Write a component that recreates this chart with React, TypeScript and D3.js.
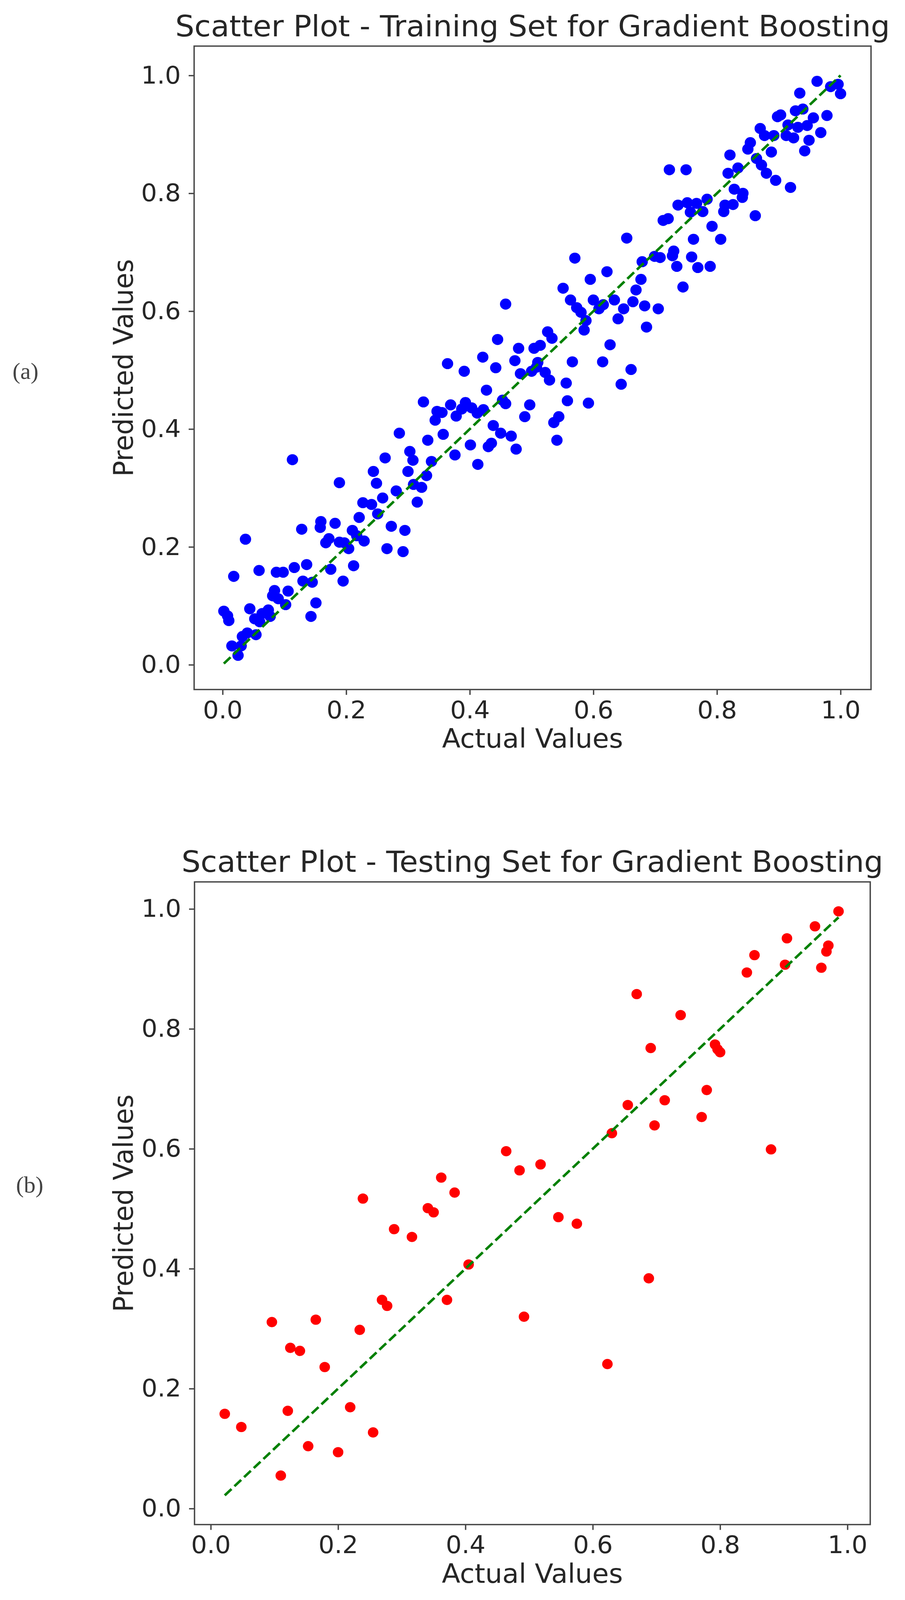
import React, { useEffect, useRef } from "react";
import * as d3 from "d3";

// Training set
const trainActual = [
  0.037, 0.128, 0.159, 0.158, 0.182, 0.221, 0.227, 0.241, 0.259, 0.281,
  0.251, 0.273, 0.295, 0.266, 0.292, 0.21, 0.217, 0.229, 0.204, 0.172,
  0.167, 0.189, 0.197, 0.175, 0.212, 0.195, 0.136, 0.116, 0.098, 0.087,
  0.059, 0.018, 0.13, 0.145, 0.151, 0.143, 0.106, 0.084, 0.081, 0.09,
  0.102, 0.002, 0.008, 0.01, 0.044, 0.052, 0.064, 0.074, 0.077, 0.06,
  0.054, 0.04, 0.032, 0.015, 0.03, 0.025, 0.189, 0.113,
  0.445, 0.479, 0.526, 0.533, 0.504, 0.514, 0.421, 0.473, 0.364, 0.391,
  0.442, 0.51, 0.566, 0.482, 0.5, 0.508, 0.522, 0.529, 0.556, 0.558,
  0.427, 0.325, 0.369, 0.393, 0.347, 0.355, 0.344, 0.378, 0.387, 0.403,
  0.412, 0.422, 0.453, 0.458, 0.497, 0.489, 0.544, 0.536, 0.541, 0.438,
  0.45, 0.467, 0.475, 0.435, 0.43, 0.401, 0.413, 0.376, 0.357, 0.332,
  0.286, 0.303, 0.308, 0.338, 0.263, 0.244, 0.249, 0.3, 0.33, 0.309,
  0.322, 0.315,
  0.723, 0.75, 0.818, 0.834, 0.828, 0.842, 0.841, 0.826, 0.813, 0.811,
  0.784, 0.767, 0.752, 0.737, 0.757, 0.777, 0.713, 0.721, 0.792, 0.762,
  0.806, 0.654, 0.57, 0.679, 0.699, 0.708, 0.73, 0.728, 0.759, 0.735,
  0.769, 0.789, 0.745, 0.622, 0.595, 0.677, 0.551, 0.669, 0.563, 0.6,
  0.616, 0.609, 0.634, 0.664, 0.649, 0.683, 0.705, 0.64, 0.686, 0.573,
  0.58, 0.588, 0.585, 0.627, 0.615, 0.661, 0.862, 0.592, 0.645, 0.458,
  0.962, 0.984, 0.996, 1.0, 0.934, 0.927, 0.939, 0.978, 0.898, 0.903,
  0.956, 0.915, 0.931, 0.946, 0.87, 0.877, 0.892, 0.912, 0.924, 0.968,
  0.949, 0.942, 0.854, 0.85, 0.888, 0.821, 0.864, 0.872, 0.88, 0.895,
  0.919,
];

const trainPredicted = [
  0.213, 0.23, 0.243, 0.233, 0.24, 0.25, 0.275, 0.272, 0.283, 0.295,
  0.256, 0.235, 0.228, 0.197, 0.192, 0.228, 0.219, 0.21, 0.197, 0.214,
  0.207, 0.208, 0.207, 0.162, 0.168, 0.142, 0.17, 0.165, 0.157, 0.157,
  0.16, 0.15, 0.142, 0.14, 0.105, 0.082, 0.125, 0.126, 0.117, 0.112,
  0.102, 0.091, 0.083, 0.075, 0.095, 0.078, 0.087, 0.093, 0.082, 0.073,
  0.051, 0.054, 0.048, 0.032, 0.032, 0.016, 0.309, 0.348,
  0.552, 0.537, 0.565, 0.554, 0.537, 0.542, 0.522, 0.516, 0.511, 0.498,
  0.504, 0.513, 0.514, 0.494, 0.498, 0.505, 0.496, 0.483, 0.478, 0.448,
  0.466, 0.446, 0.441, 0.445, 0.43, 0.428, 0.415, 0.422, 0.434, 0.436,
  0.427, 0.433, 0.449, 0.443, 0.441, 0.421, 0.421, 0.411, 0.381, 0.406,
  0.393, 0.388, 0.366, 0.376, 0.37, 0.373, 0.34, 0.356, 0.391, 0.381,
  0.393, 0.362, 0.347, 0.345, 0.351, 0.328, 0.308, 0.328, 0.321, 0.306,
  0.301, 0.276,
  0.84, 0.84, 0.834, 0.843, 0.807, 0.8, 0.793, 0.781, 0.78, 0.769,
  0.79, 0.783, 0.784, 0.78, 0.768, 0.769, 0.754, 0.757, 0.744, 0.722,
  0.722, 0.724, 0.69, 0.684, 0.693, 0.691, 0.702, 0.694, 0.692, 0.676,
  0.674, 0.676, 0.641, 0.667, 0.654, 0.654, 0.639, 0.636, 0.619, 0.619,
  0.611, 0.604, 0.619, 0.616, 0.604, 0.609, 0.604, 0.587, 0.573, 0.606,
  0.598, 0.584, 0.568, 0.543, 0.514, 0.501, 0.762, 0.444, 0.476, 0.612,
  0.99, 0.981, 0.985, 0.969, 0.97, 0.94, 0.943, 0.932, 0.93, 0.933,
  0.928, 0.916, 0.912, 0.915, 0.91, 0.898, 0.898, 0.898, 0.894, 0.903,
  0.89, 0.872, 0.886, 0.875, 0.87, 0.865, 0.859, 0.848, 0.834, 0.822,
  0.81,
];

// Testing set
const testActual = [
  0.022, 0.048, 0.096, 0.11, 0.121, 0.125, 0.14, 0.153, 0.165, 0.179,
  0.2, 0.219, 0.234, 0.239, 0.255, 0.269, 0.277, 0.288, 0.316, 0.341,
  0.35, 0.362, 0.371, 0.383, 0.405, 0.464, 0.485, 0.492, 0.518, 0.546,
  0.575, 0.623, 0.63, 0.655, 0.669, 0.688, 0.691, 0.697, 0.713, 0.738,
  0.771, 0.779, 0.792, 0.796, 0.8, 0.842, 0.854, 0.88, 0.902, 0.905,
  0.949, 0.959, 0.967, 0.97, 0.986,
];

const testPredicted = [
  0.158, 0.136, 0.311, 0.055, 0.163, 0.268, 0.263, 0.104, 0.315, 0.236,
  0.094, 0.169, 0.298, 0.517, 0.127, 0.348, 0.338, 0.466, 0.453, 0.501,
  0.494, 0.552, 0.348, 0.527, 0.407, 0.596, 0.564, 0.32, 0.574, 0.486,
  0.475, 0.241, 0.626, 0.673, 0.858, 0.384, 0.768, 0.639, 0.681, 0.823,
  0.653, 0.698, 0.774, 0.766, 0.761, 0.894, 0.923, 0.599, 0.907, 0.951,
  0.971, 0.902, 0.929, 0.939, 0.996,
];

const tickValues = [0, 0.2, 0.4, 0.6, 0.8, 1.0];

const titles = [
  "Scatter Plot - Training Set for Gradient Boosting",
  "Scatter Plot - Testing Set for Gradient Boosting",
];

interface Panel {
  title: string;
  tag: string;
  actual: number[];
  predicted: number[];
  color: string;
  radius: number;
  left: number;
  right: number;
  top: number;
  bottom: number;
  xDomain: [number, number];
  yDomain: [number, number];
  tagX: number;
  tagY: number;
}

const panels: Panel[] = [
  {
    title: titles[0],
    tag: "(a)",
    actual: trainActual,
    predicted: trainPredicted,
    color: "#0000ff",
    radius: 14.5,
    left: 497,
    right: 2230,
    top: 121,
    bottom: 1810,
    xDomain: [-0.0461, 1.0493],
    yDomain: [-0.042, 1.0498],
    tagX: 32,
    tagY: 995,
  },
  {
    title: titles[1],
    tag: "(b)",
    actual: testActual,
    predicted: testPredicted,
    color: "#ff0000",
    radius: 13.5,
    left: 498,
    right: 2228,
    top: 2315,
    bottom: 4002,
    xDomain: [-0.0255, 1.0358],
    yDomain: [-0.0267, 1.0451],
    tagX: 41,
    tagY: 3131,
  },
];

const W = 2317;
const H = 4200;
const FONT = "'DejaVu Sans', sans-serif";
const INK = "#262626";
const SPINE = "#454545";

const App: React.FC = () => {
  const svgRef = useRef<SVGSVGElement | null>(null);

  useEffect(() => {
    const svg = d3.select(svgRef.current);
    svg.selectAll("*").remove();

    panels.forEach((p) => {
      const x = d3.scaleLinear().domain(p.xDomain).range([p.left, p.right]);
      const y = d3.scaleLinear().domain(p.yDomain).range([p.bottom, p.top]);
      const g = svg.append("g");

      // points
      g.append("g")
        .selectAll("circle")
        .data(p.actual.map((a, i) => [a, p.predicted[i]]))
        .enter()
        .append("circle")
        .attr("cx", (d) => x(d[0]))
        .attr("cy", (d) => y(d[1]))
        .attr("r", p.radius)
        .attr("fill", p.color);

      // identity line over the range of actual values
      const ext = d3.extent(p.actual) as [number, number];
      const line = d3
        .line<number>()
        .x((d) => x(d))
        .y((d) => y(d));
      g.append("path")
        .attr("d", line(ext))
        .attr("fill", "none")
        .attr("stroke", "#008000")
        .attr("stroke-width", 6.5)
        .attr("stroke-dasharray", "24,10.4");

      // x axis
      const xAxis = g
        .append("g")
        .attr("transform", `translate(0,${p.bottom})`)
        .call(
          d3
            .axisBottom(x)
            .tickValues(tickValues)
            .tickFormat(d3.format(".1f"))
            .tickSize(14)
            .tickPadding(16)
        );
      xAxis.select(".domain").remove();
      xAxis
        .selectAll("text")
        .style("font-family", FONT)
        .style("font-size", "64px")
        .style("fill", INK);
      xAxis.selectAll("line").attr("stroke", SPINE).attr("stroke-width", 3.5);

      // y axis
      const yAxis = g
        .append("g")
        .attr("transform", `translate(${p.left},0)`)
        .call(
          d3
            .axisLeft(y)
            .tickValues(tickValues)
            .tickFormat(d3.format(".1f"))
            .tickSize(14)
            .tickPadding(20)
        );
      yAxis.select(".domain").remove();
      yAxis
        .selectAll("text")
        .style("font-family", FONT)
        .style("font-size", "64px")
        .style("fill", INK);
      yAxis.selectAll("line").attr("stroke", SPINE).attr("stroke-width", 3.5);

      // frame
      g.append("rect")
        .attr("x", p.left)
        .attr("y", p.top)
        .attr("width", p.right - p.left)
        .attr("height", p.bottom - p.top)
        .attr("fill", "none")
        .attr("stroke", SPINE)
        .attr("stroke-width", 3.5);

      const cx = (p.left + p.right) / 2;
      const cy = (p.top + p.bottom) / 2;

      // title
      g.append("text")
        .attr("x", cx)
        .attr("y", p.top - 26)
        .attr("text-anchor", "middle")
        .style("font-family", FONT)
        .style("font-size", "77px")
        .style("fill", INK)
        .text(p.title);

      // x label
      g.append("text")
        .attr("x", cx)
        .attr("y", p.bottom + 153)
        .attr("text-anchor", "middle")
        .style("font-family", FONT)
        .style("font-size", "69px")
        .style("fill", INK)
        .text("Actual Values");

      // y label
      g.append("text")
        .attr("transform", `translate(340,${cy}) rotate(-90)`)
        .attr("text-anchor", "middle")
        .style("font-family", FONT)
        .style("font-size", "69px")
        .style("fill", INK)
        .text("Predicted Values");

      // panel tag
      g.append("text")
        .attr("x", p.tagX)
        .attr("y", p.tagY)
        .style("font-family", "'Liberation Serif', 'Times New Roman', serif")
        .style("font-size", "60px")
        .style("fill", "#444")
        .text(p.tag);
    });
  }, []);

  // the visible page can be a little shorter than the window, so the
  // drawing is fitted to the viewport
  return (
    <svg
      ref={svgRef}
      viewBox={`0 0 ${W} ${H}`}
      preserveAspectRatio="none"
      style={{
        position: "absolute",
        left: 0,
        top: 0,
        width: "100vw",
        height: "100vh",
        display: "block",
        background: "#fff",
      }}
    ></svg>
  );
};

export default App;
